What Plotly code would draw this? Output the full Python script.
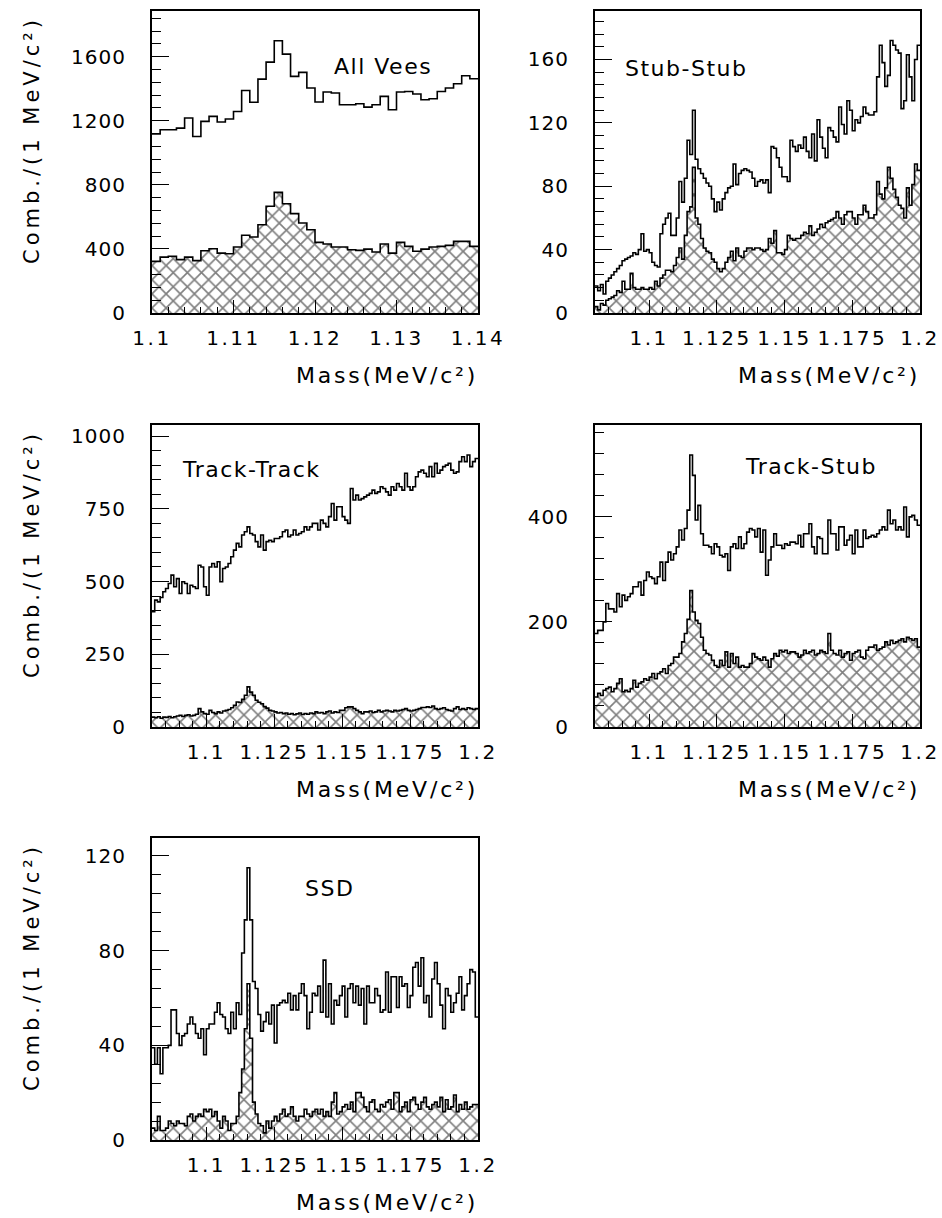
import numpy as np
import plotly.graph_objects as go

# ---------------- data (counts per 1 MeV bin) ----------------
BIN_WIDTH = 0.001
ALL_VEES_START = 1.100
WIDE_START = 1.080

ALL_VEES_TOTAL = [1117, 1144, 1144, 1154, 1217, 1102, 1196, 1227, 1192, 1211,
                  1258, 1389, 1315, 1460, 1566, 1699, 1616, 1477, 1502, 1404,
                  1317, 1379, 1373, 1300, 1300, 1306, 1285, 1300, 1352, 1269,
                  1379, 1383, 1367, 1331, 1337, 1383, 1404, 1431, 1481, 1462]
ALL_VEES_HATCHED = [322, 349, 354, 333, 349, 327, 389, 401, 374, 370,
                    412, 485, 474, 551, 666, 753, 682, 620, 562, 520,
                    441, 431, 412, 412, 395, 391, 399, 381, 431, 374,
                    441, 416, 385, 399, 412, 416, 422, 447, 447, 416]

STUB_STUB_TOTAL = [17, 14, 18, 12, 20, 22, 24, 26, 28, 30,
                   33, 34, 35, 36, 38, 37, 40, 50, 39, 40,
                   38, 32, 30, 29, 50, 56, 60, 63, 49, 49,
                   60, 83, 70, 85, 109, 100, 128, 97, 91, 88,
                   85, 82, 80, 72, 64, 70, 65, 72, 76, 79,
                   80, 94, 81, 88, 90, 91, 90, 89, 85, 80,
                   83, 84, 82, 84, 76, 105, 104, 98, 92, 86,
                   86, 83, 109, 105, 102, 106, 104, 111, 102, 98,
                   113, 96, 122, 111, 104, 98, 117, 115, 111, 108,
                   130, 119, 113, 134, 128, 115, 122, 120, 124, 130,
                   126, 125, 125, 127, 149, 169, 158, 143, 150, 172,
                   169, 166, 164, 129, 134, 163, 149, 134, 160, 169]
STUB_STUB_HATCHED = [4, 2, 6, 5, 8, 9, 10, 11, 14, 13,
                     20, 15, 15, 25, 16, 15, 15, 16, 15, 15,
                     16, 15, 20, 17, 22, 24, 27, 27, 26, 30,
                     35, 41, 34, 49, 64, 67, 92, 60, 56, 47,
                     41, 39, 38, 34, 32, 28, 26, 28, 32, 35,
                     39, 33, 41, 36, 35, 39, 41, 41, 40, 41,
                     41, 40, 39, 40, 47, 44, 52, 38, 38, 37,
                     40, 49, 47, 46, 47, 47, 49, 51, 50, 55,
                     49, 51, 53, 56, 54, 57, 58, 59, 60, 64,
                     60, 56, 62, 64, 64, 60, 56, 62, 62, 68,
                     64, 60, 60, 62, 83, 75, 72, 79, 92, 85,
                     78, 73, 68, 66, 60, 79, 68, 81, 94, 90]

TRACK_TRACK_TOTAL = [396, 436, 430, 445, 465, 476, 493, 522, 482, 510,
                     459, 499, 493, 459, 487, 482, 476, 556, 550, 482,
                     453, 550, 562, 550, 568, 499, 545, 550, 562, 585,
                     608, 631, 619, 660, 671, 688, 665, 660, 637, 619,
                     660, 608, 637, 642, 637, 648, 648, 654, 671, 677,
                     654, 660, 677, 660, 665, 671, 688, 677, 688, 700,
                     700, 677, 711, 700, 688, 723, 768, 711, 757, 757,
                     723, 711, 700, 820, 780, 797, 780, 785, 791, 797,
                     803, 814, 803, 808, 826, 820, 808, 797, 826, 814,
                     837, 826, 814, 872, 826, 814, 826, 860, 877, 883,
                     872, 860, 895, 860, 906, 872, 883, 895, 900, 906,
                     883, 872, 877, 912, 929, 912, 935, 895, 912, 923]
TRACK_TRACK_HATCHED = [34, 32, 35, 30, 34, 33, 36, 32, 35, 38,
                       40, 36, 40, 42, 38, 40, 44, 63, 52, 46,
                       44, 57, 50, 46, 52, 48, 55, 57, 60, 66,
                       75, 86, 84, 95, 109, 138, 120, 109, 92, 85,
                       80, 70, 65, 57, 55, 52, 48, 50, 46, 48,
                       44, 46, 42, 45, 48, 43, 46, 44, 48, 46,
                       52, 48, 50, 46, 52, 55, 48, 52, 50, 57,
                       57, 66, 69, 69, 63, 57, 52, 46, 52, 52,
                       55, 50, 52, 57, 52, 55, 57, 55, 52, 57,
                       55, 57, 60, 63, 57, 55, 57, 60, 63, 67,
                       67, 69, 67, 72, 63, 60, 63, 66, 60, 57,
                       55, 63, 69, 60, 63, 60, 66, 63, 60, 63]

TRACK_STUB_TOTAL = [178, 184, 184, 200, 235, 225, 225, 219, 254, 229,
                    251, 241, 248, 254, 267, 267, 276, 251, 279, 295,
                    286, 283, 273, 286, 314, 279, 314, 333, 318, 330,
                    343, 375, 356, 378, 413, 518, 479, 394, 422, 368,
                    346, 346, 343, 330, 349, 343, 327, 324, 330, 298,
                    343, 349, 340, 362, 340, 349, 371, 378, 375, 362,
                    378, 333, 375, 289, 318, 343, 368, 346, 346, 340,
                    349, 346, 352, 352, 349, 365, 343, 368, 368, 387,
                    343, 330, 362, 359, 330, 330, 394, 368, 368, 337,
                    381, 381, 346, 356, 365, 330, 375, 343, 343, 375,
                    359, 362, 365, 362, 368, 375, 381, 375, 413, 387,
                    394, 375, 381, 375, 419, 362, 400, 403, 394, 384]
TRACK_STUB_HATCHED = [57, 64, 60, 70, 73, 76, 67, 73, 83, 92,
                      67, 70, 67, 73, 89, 76, 83, 86, 92, 89,
                      95, 102, 92, 102, 105, 111, 102, 117, 121, 133,
                      133, 140, 162, 178, 205, 260, 219, 203, 197, 171,
                      146, 140, 137, 127, 117, 114, 127, 117, 143, 114,
                      140, 121, 133, 114, 117, 114, 114, 121, 140, 133,
                      130, 127, 133, 127, 114, 130, 140, 135, 146, 143,
                      146, 140, 143, 143, 140, 133, 137, 146, 140, 143,
                      146, 137, 140, 146, 143, 140, 178, 146, 140, 137,
                      146, 133, 140, 143, 127, 140, 143, 146, 133, 130,
                      146, 152, 152, 156, 146, 149, 152, 162, 156, 165,
                      159, 162, 165, 168, 162, 171, 168, 165, 168, 152]

SSD_TOTAL = [39, 32, 39, 28, 39, 39, 40, 55, 55, 45,
             40, 44, 45, 49, 52, 49, 45, 43, 47, 36,
             47, 49, 49, 54, 58, 53, 52, 47, 45, 54,
             47, 58, 53, 79, 93, 115, 93, 67, 64, 53,
             46, 50, 54, 49, 57, 41, 57, 58, 59, 58,
             62, 55, 61, 55, 62, 66, 61, 47, 54, 62,
             61, 65, 54, 76, 52, 66, 49, 59, 57, 61,
             65, 52, 64, 66, 58, 65, 57, 64, 49, 65,
             58, 58, 64, 61, 54, 55, 71, 54, 69, 69,
             56, 69, 65, 66, 56, 61, 73, 75, 65, 77,
             58, 61, 52, 68, 75, 66, 57, 47, 64, 61,
             54, 58, 62, 69, 55, 61, 66, 72, 71, 52]
SSD_HATCHED = [5, 4, 10, 4, 4, 5, 8, 7, 6, 8,
               7, 7, 6, 10, 11, 8, 10, 11, 10, 13,
               12, 13, 10, 12, 8, 5, 10, 8, 4, 7,
               7, 10, 20, 30, 47, 66, 43, 16, 11, 7,
               6, 3, 8, 5, 8, 10, 8, 11, 13, 10,
               11, 14, 10, 8, 10, 10, 13, 11, 10, 12,
               13, 11, 13, 10, 12, 10, 16, 20, 11, 12,
               14, 15, 13, 16, 12, 20, 20, 18, 14, 12,
               16, 17, 13, 12, 15, 14, 16, 17, 13, 20,
               20, 12, 14, 16, 12, 17, 18, 15, 13, 16,
               18, 14, 13, 15, 16, 14, 18, 12, 17, 13,
               14, 19, 12, 15, 13, 16, 13, 14, 15, 15]

TITLES = ["All Vees", "Stub-Stub", "Track-Track", "Track-Stub", "SSD"]
X_TICKS_NARROW = [1.10, 1.11, 1.12, 1.13, 1.14]
X_TICKTEXT_NARROW = ["1.1", "1.11", "1.12", "1.13", "1.14"]
X_TICKS_WIDE = [1.100, 1.125, 1.150, 1.175, 1.200]
X_TICKTEXT_WIDE = ["1.1", "1.125", "1.15", "1.175", "1.2"]
Y_TICKS = [[0, 400, 800, 1200, 1600],
           [0, 40, 80, 120, 160],
           [0, 250, 500, 750, 1000],
           [0, 200, 400],
           [0, 40, 80, 120]]
X_LABEL = "Mass(MeV/c²)"
Y_LABEL = "Comb./(1 MeV/c²)"

# ---------------- layout / style ----------------
W, H = 942, 1218
FONT = "DejaVu Sans"


def sp(text, ls):
    return '<span style="letter-spacing:%spx">%s</span>' % (ls, text)


panels = [
    dict(total=ALL_VEES_TOTAL, hatch=ALL_VEES_HATCHED, start=ALL_VEES_START,
         box=(152, 478, 11, 313), yr=1885, ydt=400, ymin=80, ytitle=True,
         xt=X_TICKS_NARROW, xtt=X_TICKTEXT_NARROW, xmin=0.002, title_pos=(332, 66)),
    dict(total=STUB_STUB_TOTAL, hatch=STUB_STUB_HATCHED, start=WIDE_START,
         box=(595, 920, 11, 313), yr=190.6, ydt=40, ymin=8, ytitle=False,
         xt=X_TICKS_WIDE, xtt=X_TICKTEXT_WIDE, xmin=0.005, title_pos=(623, 68)),
    dict(total=TRACK_TRACK_TOTAL, hatch=TRACK_TRACK_HATCHED, start=WIDE_START,
         box=(152, 478, 425, 727), yr=1038, ydt=250, ymin=50, ytitle=True,
         xt=X_TICKS_WIDE, xtt=X_TICKTEXT_WIDE, xmin=0.005, title_pos=(180, 470)),
    dict(total=TRACK_STUB_TOTAL, hatch=TRACK_STUB_HATCHED, start=WIDE_START,
         box=(595, 920, 425, 727), yr=575, ydt=200, ymin=40, ytitle=False,
         xt=X_TICKS_WIDE, xtt=X_TICKTEXT_WIDE, xmin=0.005, title_pos=(743, 466)),
    dict(total=SSD_TOTAL, hatch=SSD_HATCHED, start=WIDE_START,
         box=(152, 478, 838, 1140), yr=127.6, ydt=40, ymin=8, ytitle=True,
         xt=X_TICKS_WIDE, xtt=X_TICKTEXT_WIDE, xmin=0.005, title_pos=(303, 888)),
]

fig = go.Figure()
annotations = []
layout_axes = {}

for i, p in enumerate(panels):
    n = len(p["total"])
    assert len(p["hatch"]) == n
    edges = p["start"] + BIN_WIDTH * np.arange(n + 1)
    xa = "x" if i == 0 else "x%d" % (i + 1)
    ya = "y" if i == 0 else "y%d" % (i + 1)
    ytot = list(p["total"]) + [p["total"][-1]]
    yhat = list(p["hatch"]) + [p["hatch"][-1]]
    fig.add_trace(go.Scatter(
        x=edges, y=ytot, mode="lines", line=dict(shape="hv", color="black", width=1.6),
        xaxis=xa, yaxis=ya, showlegend=False, hoverinfo="skip"))
    fig.add_trace(go.Scatter(
        x=edges, y=yhat, mode="lines", line=dict(shape="hv", color="black", width=1.6),
        fill="tozeroy", fillcolor="white",
        fillpattern=dict(shape="x", size=10, solidity=0.3, fgcolor="black", bgcolor="white"),
        xaxis=xa, yaxis=ya, showlegend=False, hoverinfo="skip"))

    x0, x1, y0, y1 = p["box"]
    xdom = [x0 / W, x1 / W]
    ydom = [1 - y1 / H, 1 - y0 / H]
    xname = "xaxis" if i == 0 else "xaxis%d" % (i + 1)
    yname = "yaxis" if i == 0 else "yaxis%d" % (i + 1)
    layout_axes[xname] = dict(
        domain=xdom, anchor=ya, range=[edges[0], edges[-1]], automargin=False,
        showline=True, linecolor="black", linewidth=2, mirror=True,
        showgrid=False, zeroline=False,
        ticks="inside", ticklen=13, tickwidth=1, tickcolor="black",
        tickmode="array", tickvals=p["xt"], ticktext=[sp(t, 2.5) for t in p["xtt"]],
        tickfont=dict(family=FONT, size=20, color="black"),
        ticklabelstandoff=6,
        minor=dict(ticks="inside", ticklen=6, tickwidth=1, tickcolor="black",
                   dtick=p["xmin"], tick0=p["start"], showgrid=False),
    )
    layout_axes[yname] = dict(
        domain=ydom, anchor=xa, range=[0, p["yr"]], automargin=False,
        showline=True, linecolor="black", linewidth=2, mirror=True,
        showgrid=False, zeroline=False,
        ticks="inside", ticklen=17, tickwidth=1, tickcolor="black",
        tickmode="array", tickvals=Y_TICKS[i], ticktext=[sp(str(t), 1) for t in Y_TICKS[i]],
        tickfont=dict(family=FONT, size=20, color="black"),
        ticklabelstandoff=20,
        minor=dict(ticks="inside", ticklen=9, tickwidth=1, tickcolor="black",
                   dtick=p["ymin"], tick0=0, showgrid=False),
    )
    # panel title
    tx, ty = p["title_pos"]
    annotations.append(dict(
        text=sp(TITLES[i], 1.5), x=tx / W, y=1 - ty / H, xref="paper", yref="paper",
        xanchor="left", yanchor="middle", showarrow=False,
        font=dict(family=FONT, size=22, color="black")))
    # x-axis title (right aligned under the frame)
    annotations.append(dict(
        text=sp(X_LABEL, 2.8), x=(x1 + 2) / W, y=1 - (y1 + 62) / H, xref="paper", yref="paper",
        xanchor="right", yanchor="middle", showarrow=False,
        font=dict(family=FONT, size=22, color="black")))
    # y-axis title (rotated, aligned to top of frame) - left column only
    if p["ytitle"]:
        annotations.append(dict(
            text=sp(Y_LABEL, 4), x=32 / W, y=1 - (y0 + 3) / H, xref="paper", yref="paper",
            xanchor="center", yanchor="top", textangle=-90, showarrow=False,
            font=dict(family=FONT, size=21, color="black")))

fig.update_layout(
    width=W, height=H, margin=dict(l=0, r=0, t=0, b=0, pad=0, autoexpand=False),
    paper_bgcolor="white", plot_bgcolor="white",
    annotations=annotations, showlegend=False,
    font=dict(family=FONT, color="black"),
    **layout_axes,
)

fig.write_html("out.html")
